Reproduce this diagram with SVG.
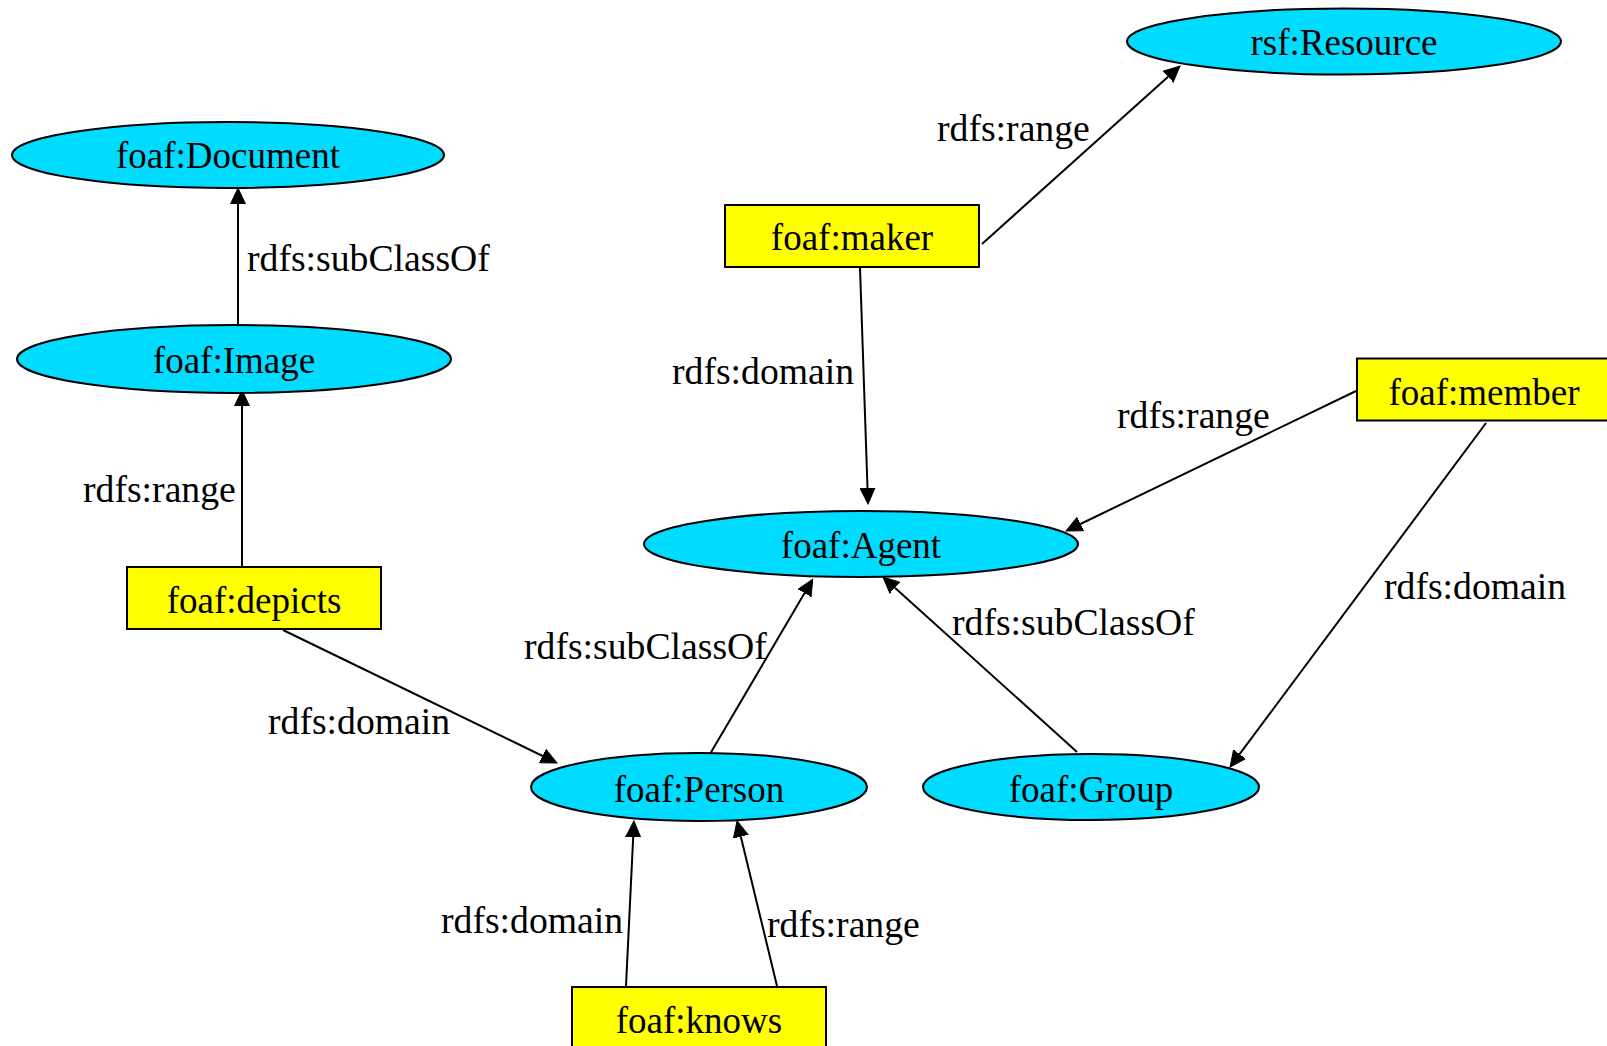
<svg xmlns="http://www.w3.org/2000/svg" width="1607" height="1046" viewBox="0 0 1607 1046">
<style>
.cls ellipse{fill:#00dcff;stroke:#000;stroke-width:2}
.prop rect{fill:#ffff00;stroke:#000;stroke-width:2}
.nt{font-family:"Liberation Serif","Times New Roman",serif;font-size:37px;text-anchor:middle;fill:#000}
.lb{font-family:"Liberation Serif","Times New Roman",serif;font-size:37.7px;fill:#000}
.edges line{stroke:#000;stroke-width:2;marker-end:url(#ah)}
</style>
<defs>
<marker id="ah" markerUnits="userSpaceOnUse" viewBox="0 -8 17 16" refX="0" refY="0" markerWidth="17" markerHeight="16" orient="auto">
<path d="M0,-7.5 L16,0 L0,7.5 Z" fill="#000" stroke="#000" stroke-width="1"/>
</marker>
</defs>
<rect width="1607" height="1046" fill="#fff"/>
<g id="connectors" class="edges">
<line x1="238" y1="325" x2="238" y2="204"/>
<line x1="242" y1="567" x2="242" y2="406"/>
<line x1="283" y1="630" x2="542.6" y2="756"/>
<line x1="982" y1="244" x2="1168.1" y2="76.7"/>
<line x1="860" y1="268" x2="867.5" y2="488"/>
<line x1="1356" y1="391" x2="1080.4" y2="524"/>
<line x1="1486" y1="423" x2="1239.6" y2="754.2"/>
<line x1="710" y1="754" x2="804.6" y2="593.1"/>
<line x1="1077" y1="752" x2="894.9" y2="587.7"/>
<line x1="626" y1="986" x2="633.2" y2="837"/>
<line x1="777" y1="986" x2="740.8" y2="836.5"/>
</g>
<g id="edge-labels">
<text class="lb" x="247" y="271">rdfs:subClassOf</text>
<text class="lb" x="83" y="502">rdfs:range</text>
<text class="lb" x="268" y="734">rdfs:domain</text>
<text class="lb" x="937" y="141">rdfs:range</text>
<text class="lb" x="672" y="384">rdfs:domain</text>
<text class="lb" x="1117" y="428">rdfs:range</text>
<text class="lb" x="1384" y="599">rdfs:domain</text>
<text class="lb" x="524" y="659">rdfs:subClassOf</text>
<text class="lb" x="952" y="635">rdfs:subClassOf</text>
<text class="lb" x="441" y="933">rdfs:domain</text>
<text class="lb" x="767" y="937">rdfs:range</text>
</g>
<g id="n-resource" class="cls"><ellipse cx="1344" cy="41.5" rx="217" ry="33"/><text class="nt" x="1344" y="54.5">rsf:Resource</text></g>
<g id="n-document" class="cls"><ellipse cx="228" cy="155" rx="216" ry="33"/><text class="nt" x="228" y="168">foaf:Document</text></g>
<g id="n-image" class="cls"><ellipse cx="234" cy="359" rx="217" ry="34"/><text class="nt" x="234" y="373">foaf:Image</text></g>
<g id="n-agent" class="cls"><ellipse cx="861" cy="544" rx="217" ry="33"/><text class="nt" x="861" y="558">foaf:Agent</text></g>
<g id="n-person" class="cls"><ellipse cx="699" cy="787" rx="168" ry="34"/><text class="nt" x="699" y="802">foaf:Person</text></g>
<g id="n-group" class="cls"><ellipse cx="1091" cy="787" rx="168" ry="33"/><text class="nt" x="1091" y="802">foaf:Group</text></g>
<g id="n-maker" class="prop"><rect x="725" y="205" width="254" height="62"/><text class="nt" x="852" y="250">foaf:maker</text></g>
<g id="n-depicts" class="prop"><rect x="127" y="567" width="254" height="62"/><text class="nt" x="254" y="613">foaf:depicts</text></g>
<g id="n-member" class="prop"><rect x="1357" y="358.5" width="254" height="62"/><text class="nt" x="1484" y="404.5">foaf:member</text></g>
<g id="n-knows" class="prop"><rect x="572" y="987" width="254" height="62"/><text class="nt" x="699" y="1033">foaf:knows</text></g>
</svg>
